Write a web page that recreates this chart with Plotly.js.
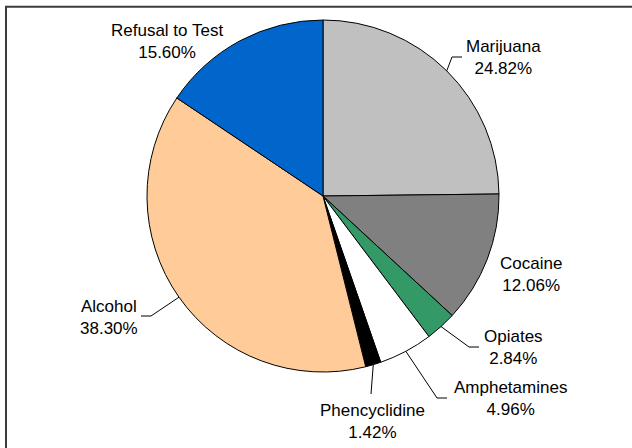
<!DOCTYPE html>
<html>
<head>
<meta charset="utf-8">
<script src="https://cdn.plot.ly/plotly-3.0.1.min.js"></script>
<style>html,body{margin:0;padding:0;background:#fff;overflow:hidden;}#chart{width:632px;height:448px;}</style>
</head>
<body>
<div id="chart"></div>
<script>
// ---- data ----
const drugs = ["Marijuana", "Cocaine", "Opiates", "Amphetamines", "Phencyclidine", "Alcohol", "Refusal to Test"];
const shares = [24.82, 12.06, 2.84, 4.96, 1.42, 38.30, 15.60];
const pctLabels = ["24.82%", "12.06%", "2.84%", "4.96%", "1.42%", "38.30%", "15.60%"];

// ---- styling / layout (not data) ----
const colors = ["#C0C0C0", "#808080", "#339966", "#FFFFFF", "#000000", "#FFCC99", "#0066CC"];
const W = 632, H = 448;
const cx = 323, cy = 196, R = 176;
// label centres in px
const labelPos = [[503, 58], [531, 274.5], [513, 347.5], [510, 398.5], [372, 421], [109, 317.5], [167, 41.5]];
// leader: null = none; [endX,endY, elbowX] for side leaders; ['v', endX, endY] for vertical
const leaders = [[462, 57, 452], null, [479, 347, 469], [447, 398, 437], ['v', 371, 394], [141, 316, 151], null];

const px = x => x / W;
const py = y => 1 - y / H;

const total = shares.reduce((a, b) => a + b, 0);
let cum = 0;
const shapes = [];
const annotations = [];
shares.forEach((v, i) => {
  const mid = (cum + v / 2) / total * 2 * Math.PI;
  cum += v;
  const ax = cx + R * Math.sin(mid), ay = cy - R * Math.cos(mid);
  const L = leaders[i];
  if (L) {
    let path;
    if (L[0] === 'v') {
      path = `M ${px(ax)} ${py(ay)} L ${px(L[1])} ${py(L[2])}`;
    } else {
      path = `M ${px(ax)} ${py(ay)} L ${px(L[2])} ${py(L[1])} L ${px(L[0])} ${py(L[1])}`;
    }
    shapes.push({type: 'path', xref: 'paper', yref: 'paper', path: path, line: {color: '#000', width: 1}});
  }
  annotations.push({
    xref: 'paper', yref: 'paper', x: px(labelPos[i][0]), y: py(labelPos[i][1]),
    xanchor: 'center', yanchor: 'middle', showarrow: false, align: 'center',
    text: drugs[i] + '<br>' + pctLabels[i],
    font: {family: 'Liberation Sans, Arial, sans-serif', size: 17, color: '#000'}
  });
});

// chart frame (extends past the visible area at right/bottom)
shapes.push({type: 'rect', xref: 'paper', yref: 'paper', x0: px(6), y0: py(600), x1: px(800), y1: py(6.7),
  line: {color: '#3c3c3c', width: 2}, fillcolor: 'rgba(0,0,0,0)', layer: 'below'});

const trace = {
  type: 'pie', labels: drugs, values: shares, sort: false, direction: 'clockwise', rotation: 0,
  marker: {colors: colors, line: {color: '#000', width: 1}},
  textinfo: 'none', hoverinfo: 'label+percent',
  domain: {x: [(cx - R) / W, (cx + R) / W], y: [1 - (cy + R) / H, 1 - (cy - R) / H]}
};

Plotly.newPlot('chart', [trace], {
  width: W, height: H, margin: {l: 0, r: 0, t: 0, b: 0},
  paper_bgcolor: '#fff', showlegend: false, shapes: shapes, annotations: annotations
}, {displayModeBar: false, staticPlot: true});
</script>
</body>
</html>
